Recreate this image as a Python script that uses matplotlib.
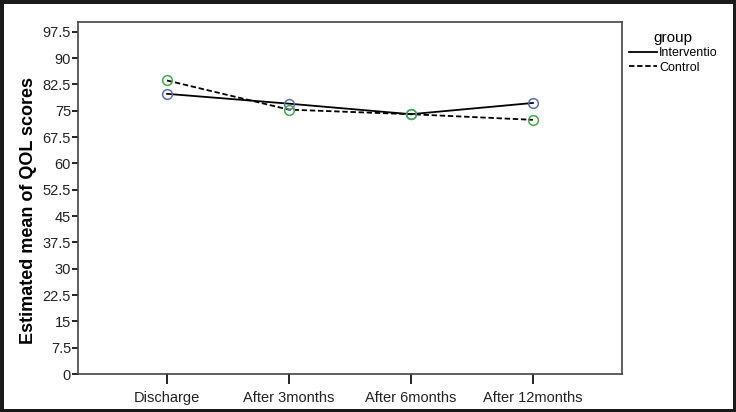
#!/usr/bin/env python3
# coding=utf-8
import matplotlib
matplotlib.use("Agg")
import matplotlib.pyplot as plt

plt.rcParams['font.family'] = ['Liberation Sans', 'DejaVu Sans']

# Estimated means
times = ["Discharge", "After 3months", "After 6months", "After 12months"]
intervention = [79.8, 77.0, 74.0, 77.2]
control = [83.6, 75.3, 74.0, 72.4]
yticks = [0, 7.5, 15, 22.5, 30, 37.5, 45, 52.5, 60, 67.5, 75, 82.5, 90, 97.5]

fig = plt.figure(figsize=(7.36, 4.12), dpi=100)
fig.patch.set_edgecolor('#1a1a1a')
fig.patch.set_linewidth(5)
ax = fig.add_axes([0.106, 0.092, 0.739, 0.855])

xs = list(range(len(times)))
ax.plot(xs, intervention, color='black', lw=1.3, ls='-', label="Interventio")
ax.plot(xs, control, color='black', lw=1.3, ls=(0, (3, 1.5)), label="Control")
ax.plot(xs, intervention, ls='none', marker='o', ms=7, mfc='none', mec='#5b6cb4', mew=1.1)
ax.plot(xs, control, ls='none', marker='o', ms=7, mfc='none', mec='#3fae4c', mew=1.1)

ax.set_xlim(-0.73, 3.73)
ax.set_ylim(0, 100.3)
ax.set_xticks(xs)
ax.set_xticklabels(times, fontsize=10.5, color='#222222')
ax.set_yticks(yticks)
ax.set_yticklabels(["%g" % t for t in yticks], fontsize=10.5, color='#222222')
ax.tick_params(axis='y', direction='out', length=4, width=1.2, pad=1)
ax.tick_params(axis='x', direction='out', length=7, width=1.2, pad=5)
for s in ax.spines.values():
    s.set_color('#444444')
    s.set_linewidth(1.2)
ax.set_ylabel("Estimated mean of QOL scores", fontsize=13, fontweight='bold')
ax.yaxis.set_label_coords(-0.076, 0.465)

leg = ax.legend(loc='upper left', bbox_to_anchor=(0.997, 1.0), frameon=False,
                title="group", fontsize=9, handlelength=2.2, handletextpad=0.2,
                labelspacing=0.2, borderaxespad=0.3)
leg.get_title().set_fontsize(11)

plt.savefig("out.png", dpi=100, edgecolor=fig.get_edgecolor())
